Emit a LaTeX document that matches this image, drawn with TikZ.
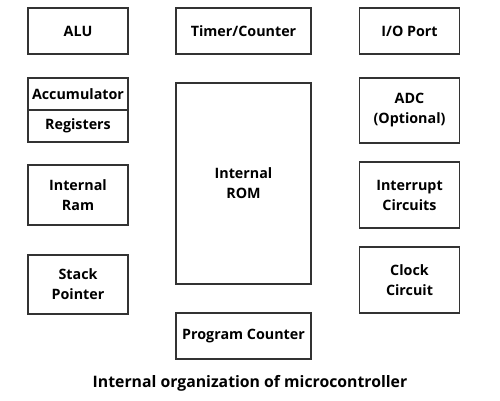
\documentclass[tikz,border=0pt]{standalone}
\usepackage{fontspec}
\setmainfont{Open Sans}
\usetikzlibrary{positioning}

\begin{document}
\begin{tikzpicture}[x=1pt,y=-1pt,
  bloc/.style={draw=black!80,line width=1.1pt,align=center,inner sep=0pt,
    font=\bfseries\fontsize{14.3}{20}\selectfont},
  petit/.style={bloc,minimum width=100pt},
  grand/.style={bloc,minimum width=135pt}]

%Cadre de l'image
\useasboundingbox (0,0) rectangle (500,400);

%Centres des colonnes
\def \colgauche{78}
\def \colmilieu{243.5}
\def \coldroite{409.5}

%%% Colonne de gauche %%%
\node[petit,minimum height=46pt] (alu) at (\colgauche,31) {ALU};
\node[petit,minimum height=32pt] (accu) at (\colgauche,94) {Accumulator};
\node[petit,minimum height=32pt] (registres) at (\colgauche,126) {Registers};
\node[petit,minimum height=60pt] (ram) at (\colgauche,195) {Internal\\Ram};
\node[petit,minimum height=59pt] (pile) at (\colgauche,284.5) {Stack\\Pointer};

%%% Colonne du milieu %%%
\node[grand,minimum height=46pt] (timer) at (\colmilieu,31) {Timer/Counter};
\node[grand,minimum height=201pt] (rom) at (\colmilieu,183.5) {Internal\\ROM};
\node[grand,minimum height=46pt] (compteur) at (\colmilieu,336) {Program Counter};

%%% Colonne de droite %%%
\node[petit,minimum height=46pt] (port) at (\coldroite,31) {I/O Port};
\node[petit,minimum height=65pt] (adc) at (\coldroite,110.5) {ADC\\(Optional)};
\node[petit,minimum height=66pt] (interruption) at (\coldroite,195) {Interrupt\\Circuits};
\node[petit,minimum height=66pt] (horloge) at (\coldroite,280) {Clock\\Circuit};

%Titre
\node[font=\bfseries\fontsize{15.8}{18}\selectfont] (titre) at (250,383) {Internal organization of microcontroller};

\end{tikzpicture}
\end{document}
